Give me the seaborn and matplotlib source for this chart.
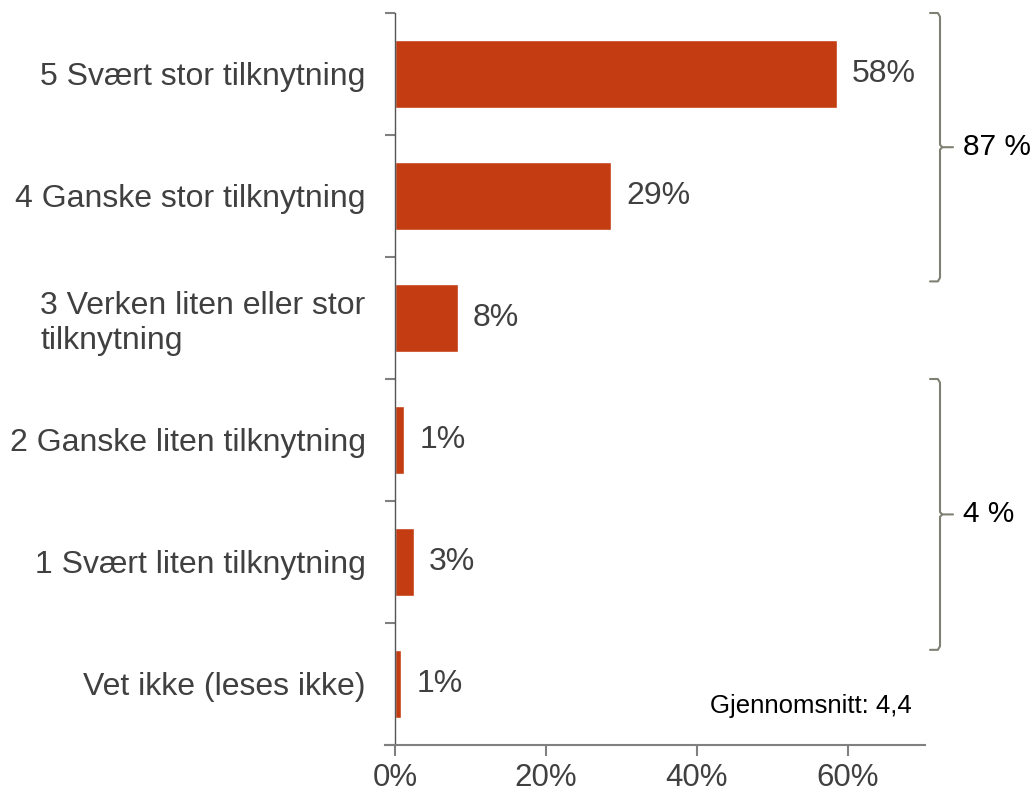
import matplotlib.pyplot as plt
import seaborn as sns
import numpy as np
import pandas as pd

categories = [
    "5 Svært stor tilknytning",
    "4 Ganske stor tilknytning",
    "3 Verken liten eller stor\ntilknytning",
    "2 Ganske liten tilknytning",
    "1 Svært liten tilknytning",
    "Vet ikke (leses ikke)",
]
values = [58.5, 28.6, 8.3, 1.2, 2.5, 0.8]
value_labels = ["58%", "29%", "8%", "1%", "3%", "1%"]
x_ticks = [0, 20, 40, 60]
x_tick_labels = ["0%", "20%", "40%", "60%"]

# braces: (start, end) in category units, label
brace_spans = [(-0.5, 1.7), (2.5, 4.72)]
brace_labels = ["87 %", "4 %"]
mean_text = "Gjennomsnitt: 4,4"

sns.set_style("white")
plt.rcParams["font.family"] = ["Liberation Sans", "DejaVu Sans"]

df = pd.DataFrame({"cat": categories, "val": values})

fig = plt.figure(figsize=(10.35, 7.99), dpi=100)
ax = fig.add_axes([385 / 1035, 1 - 745 / 799, 540 / 1035, 732 / 799])

bar_color = "#C43C12"
sns.barplot(data=df, x="val", y="cat", color=bar_color, width=0.56,
            saturation=1, ax=ax, orient="h")
ax.set_xlim(-1.3, 70.2)
ax.set_ylim(5.5, -0.5)
ax.set_xlabel("")
ax.set_ylabel("")

for c in ax.containers:
    ax.bar_label(c, labels=value_labels, padding=11, fontsize=23, color="#404040")

ax.spines["left"].set_position(("data", 0))
for s in ["top", "right"]:
    ax.spines[s].set_visible(False)
ax.spines["left"].set_color("#555555")
ax.spines["bottom"].set_color("#808080")
ax.spines["left"].set_linewidth(1.0)
ax.spines["bottom"].set_linewidth(1.5)

ax.set_xticks(x_ticks)
ax.set_xticklabels(x_tick_labels, fontsize=22.5, color="#404040")
ax.tick_params(axis="x", bottom=True, length=8, width=1.5, color="#808080",
               pad=5, direction="out")

ax.set_yticks(np.arange(len(categories)))
ax.set_yticklabels(categories, fontsize=23, color="#404040")
ax.set_yticks(np.arange(len(categories) + 1) - 0.5, minor=True)
ax.tick_params(axis="y", which="major", left=True, length=0, pad=21)
ax.tick_params(axis="y", which="minor", left=True, length=7, width=1.5,
               color="#808080", direction="out")
for lbl in ax.get_yticklabels():
    lbl.set_multialignment("left")

# braces
trans = ax.get_yaxis_transform()
bc = "#7f8173"
x_end, x_line, x_tip = 1.0093, 1.0278, 1.0519
for (y0, y1), lab in zip(brace_spans, brace_labels):
    mid = (y0 + y1) / 2
    ax.plot([x_end, x_line - 0.004, x_line, x_line, x_line + 0.004, x_tip],
            [y0, y0, y0 + 0.03, mid - 0.02, mid, mid],
            transform=trans, color=bc, lw=1.5, clip_on=False)
    ax.plot([x_line + 0.004, x_line, x_line, x_line - 0.004, x_end],
            [mid, mid + 0.02, y1 - 0.03, y1, y1],
            transform=trans, color=bc, lw=1.5, clip_on=False)
    ax.text(x_tip + 0.018, mid, lab, transform=trans, fontsize=21.5,
            color="black", va="center", ha="left")

ax.text(0.975, 0.053, mean_text, transform=ax.transAxes, fontsize=18.5,
        color="black", ha="right", va="center")

fig.savefig("out.png", dpi=100)
